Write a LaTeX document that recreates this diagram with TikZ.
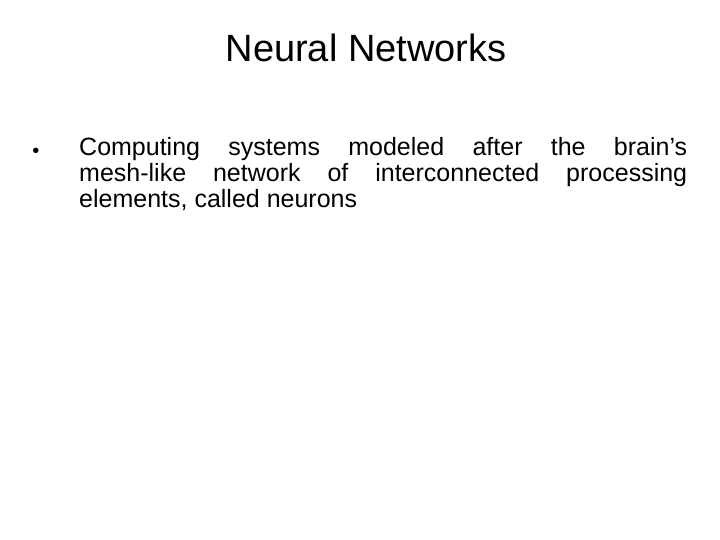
\documentclass[tikz,border=0pt]{standalone}
\usepackage{fontspec}
\setmainfont{Liberation Sans}
\begin{document}
\begin{tikzpicture}[x=1pt,y=1pt,
  txt/.style={inner sep=0pt, font=\fontsize{25}{26}\selectfont}]
\useasboundingbox[fill=white] (0,0) rectangle (720,-540);
\node[inner sep=0pt, font=\fontsize{38}{40}\selectfont] (title) at (366,-48) {Neural Networks};
\node[inner sep=0pt, font=\fontsize{20}{24}\selectfont, anchor=base] (bullet) at (36,-158) {•};
\node[txt, anchor=north west, text width=608pt, align=justify] (body) at (79,-137)
 {Computing systems modeled after the brain’s\linebreak mesh-like network of interconnected processing\linebreak elements, called neurons};
\end{tikzpicture}
\end{document}
